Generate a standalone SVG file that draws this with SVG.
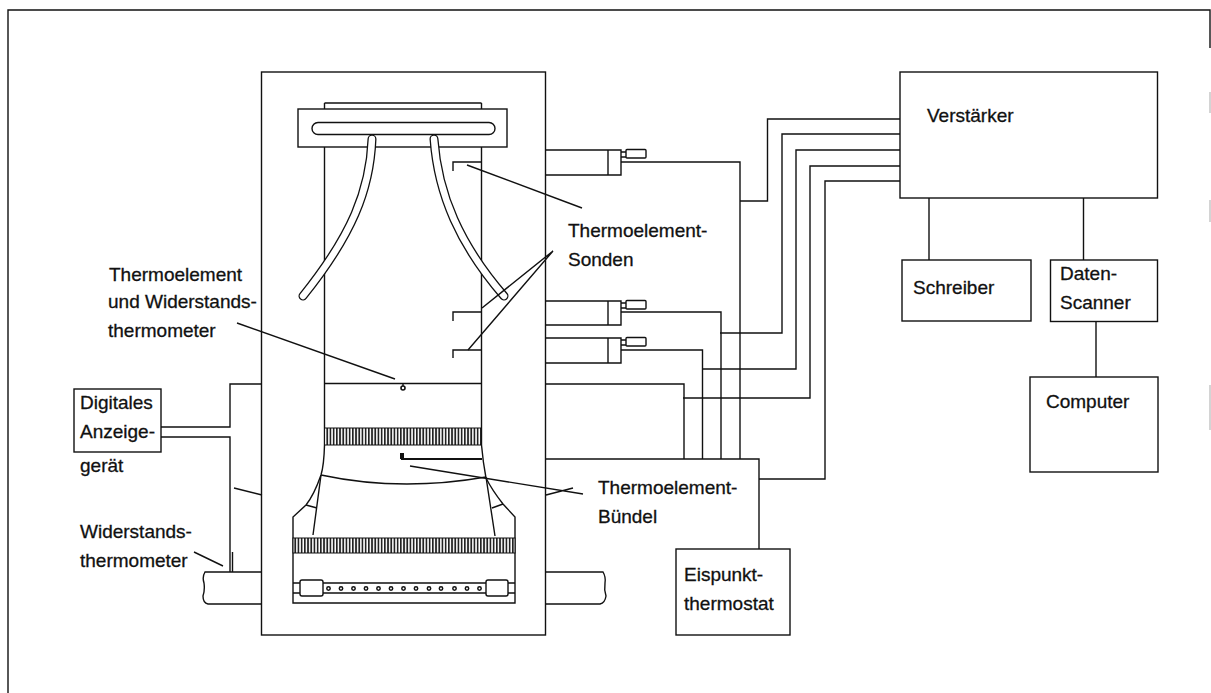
<svg xmlns="http://www.w3.org/2000/svg" width="1211" height="693" viewBox="0 0 1211 693">
<style>
.l{fill:none;stroke:#111;stroke-width:1.4}
.b{fill:#fff;stroke:#111;stroke-width:1.4}
.t{font-family:"Liberation Sans",Arial,sans-serif;font-size:19px;fill:#111;stroke:#111;stroke-width:0.3}
.tb{fill:none;stroke:#111;stroke-width:9;stroke-linecap:round}
.tw{fill:none;stroke:#fff;stroke-width:6.4;stroke-linecap:round}
</style>
<defs>
<pattern id="h" width="3.2" height="10" patternUnits="userSpaceOnUse"><rect width="3.2" height="10" fill="#fff"/><rect width="1.7" height="10" fill="#222"/></pattern>
</defs>
<rect width="1211" height="693" fill="#fff"/>
<path id="frame" class="l" d="M8 693V10H1210V48"/>
<path class="l" stroke-opacity="0.25" d="M1210 92V113M1210 200V222M1210 385V430"/>
<g id="pipes">
<path class="l" d="M262 572H205Q202 577 204 583Q205 590 203 596Q203 603 208 604H262"/>
<path class="l" d="M546 572H603Q606 577 605 583Q604 590 606 596Q605 603 600 604H546"/>
</g>
<g id="tank">
<rect class="b" x="261.500" y="72" width="284" height="563"/>
<path class="l" d="M324.500 103V147M481.500 103V147M324.500 103H481.500"/>
<path class="l" d="M324.500 147V445Q324 465 321 475Q314 495 306 505L293 517V603H515V517L503 504Q492 490 486 478Q483 462 481.500 445V147"/>
<path class="l" d="M324.500 383.500H481.500"/>
<rect x="324.500" y="428" width="157" height="17" fill="url(#h)" stroke="#111"/>
<rect x="293" y="538" width="222" height="15" fill="url(#h)" stroke="#111"/>
<path class="l" d="M321 475Q400 492 486 477"/>
<path class="l" d="M321 475L313 535M486 477L495 536M306 505L317 508M492 508L503 504"/>
<path class="l" d="M323 583H486M323 593H486M293 583H300M293 593H300M508 583H515M508 593H515"/>
<rect class="b" x="300" y="580" width="23" height="16" rx="2"/>
<rect class="b" x="486" y="580" width="22" height="16" rx="2"/>
<g fill="#fff" stroke="#111" stroke-width="1.5">
<circle cx="328.500" cy="588.500" r="1.700"/><circle cx="341" cy="588.500" r="1.700"/><circle cx="353.500" cy="588.500" r="1.700"/><circle cx="366" cy="588.500" r="1.700"/><circle cx="378.500" cy="588.500" r="1.700"/><circle cx="391" cy="588.500" r="1.700"/><circle cx="403.500" cy="588.500" r="1.700"/><circle cx="416" cy="588.500" r="1.700"/><circle cx="429" cy="588.500" r="1.700"/><circle cx="441" cy="588.500" r="1.700"/><circle cx="454.500" cy="588.500" r="1.700"/><circle cx="467" cy="588.500" r="1.700"/><circle cx="479.500" cy="588.500" r="1.700"/>
</g>
<rect class="b" x="298" y="109" width="209" height="38"/>
<rect class="l" x="312" y="122.500" width="183" height="12" rx="6"/>
<path class="tb" d="M372 139C370 190 352 235 303 296"/>
<path class="tb" d="M434 139C438 195 460 245 504 296"/>
<path class="tw" d="M372 139C370 190 352 235 303 296"/>
<path class="tw" d="M434 139C438 195 460 245 504 296"/>
<path class="l" d="M482 162H453V171M482 312H453V321M482 350H453V358"/>
<path d="M402 454V459H482" fill="none" stroke="#111" stroke-width="2"/>
<rect x="400" y="453" width="4" height="6" fill="#111"/>
<path class="l" d="M403 384V386"/><circle cx="403" cy="388" r="2" fill="#fff" stroke="#111" stroke-width="1.600"/>
</g>
<g id="leaders">
<path class="l" d="M467 165L582 208"/>
<path class="l" d="M553 251L482 308M553 251L468 350"/>
<path class="l" d="M237 323L395 379"/>
<path class="l" d="M410 466L583 494M546 495L573 488"/>
<path class="l" d="M234 488L262 495M194 552L223 566"/>
</g>
<g id="connectors">
<path class="l" d="M161 427H230V384H262M161 437H230V572M232.500 552V572"/>
<path class="l" d="M621 162H740V459M740 201H767.500V119H900"/>
<path class="l" d="M621 312H721V459M720 333H782V134H900"/>
<path class="l" d="M621 350H702.500V459M702 369H796V150H900"/>
<path class="l" d="M546 384H684V459M683 398H810V166H900"/>
<path class="l" d="M759 479H825V181H900"/>
<path class="l" d="M546 459H759V549"/>
<path class="l" d="M929 198V260M1083.500 198V260M1096 321V377"/>
</g>
<g id="probe1"><path class="l" d="M546 150H621V175H546M608 150V175M621 152H626M621 157H626"/><rect class="l" x="626" y="149.500" width="20" height="8.500" rx="1"/></g>
<g id="probe2"><path class="l" d="M546 301H621V325H546M608 301V325M621 303H626M621 308H626"/><rect class="l" x="626" y="300.500" width="20" height="8.500" rx="1"/></g>
<g id="probe3"><path class="l" d="M546 338H621V363H546M608 338V363M621 340H626M621 345H626"/><rect class="l" x="626" y="337.500" width="20" height="8.500" rx="1"/></g>
<g id="verstaerker"><rect class="b" x="900" y="72" width="257.500" height="126"/><text class="t" x="927" y="122">Verstärker</text></g>
<g id="schreiber"><rect class="b" x="902" y="260" width="129" height="61"/><text class="t" x="913" y="294">Schreiber</text></g>
<g id="scanner"><rect class="b" x="1050.500" y="260" width="107" height="61.500"/><text class="t" x="1060" y="280">Daten-</text><text class="t" x="1060" y="309">Scanner</text></g>
<g id="computer"><rect class="b" x="1030" y="377" width="128" height="95"/><text class="t" x="1046" y="408">Computer</text></g>
<g id="eispunkt"><rect class="b" x="676" y="549" width="114" height="86"/><text class="t" x="684" y="581">Eispunkt-</text><text class="t" x="684" y="610">thermostat</text></g>
<g id="anzeige"><rect class="b" x="74" y="389" width="87" height="63"/><text class="t" x="80" y="409">Digitales</text><text class="t" x="80" y="438">Anzeige-</text><text class="t" x="80" y="472">gerät</text></g>
<g id="labels">
<text class="t" x="568" y="237">Thermoelement-</text><text class="t" x="568" y="266">Sonden</text>
<text class="t" x="109" y="281">Thermoelement</text><text class="t" x="108" y="308">und Widerstands-</text><text class="t" x="108" y="337">thermometer</text>
<text class="t" x="598" y="494">Thermoelement-</text><text class="t" x="598" y="523">Bündel</text>
<text class="t" x="80" y="538">Widerstands-</text><text class="t" x="80" y="567">thermometer</text>
</g>
</svg>
